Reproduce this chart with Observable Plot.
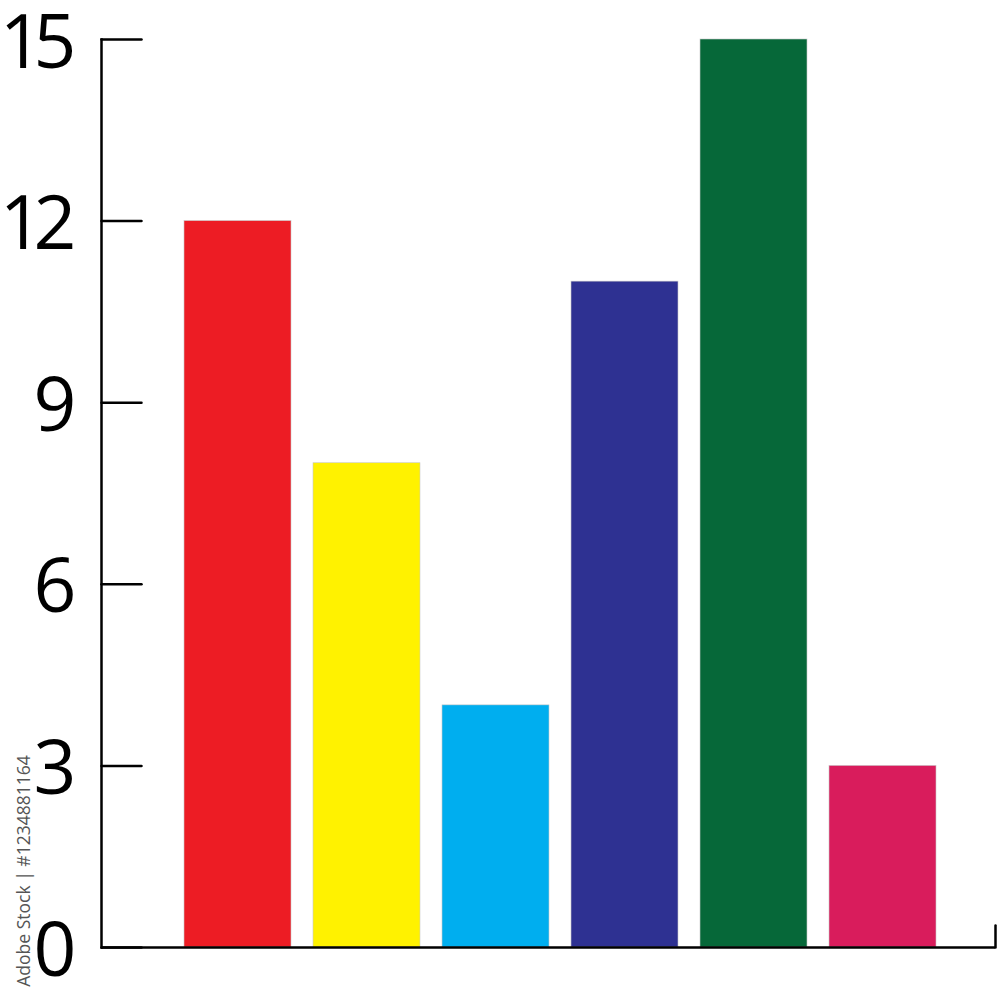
<!DOCTYPE html>
<html>
<head>
<meta charset="utf-8">
<script src="https://cdn.jsdelivr.net/npm/d3@7"></script>
<script src="https://cdn.jsdelivr.net/npm/@observablehq/plot@0.6"></script>
<style>
  html, body { margin: 0; padding: 0; background: #fff; }
  #wrap { position: relative; width: 997px; height: 1000px; }
  #side { position: absolute; left: 23px; top: 871px; transform: translate(-50%, -50%) rotate(-90deg);
          font-family: "Open Sans", sans-serif; font-size: 17.5px; color: #555; white-space: nowrap; }
  g[aria-label="y-axis tick label"] text { letter-spacing: -9px; }
</style>
</head>
<body>
<div id="wrap"><div id="side">Adobe Stock | #1234881164</div></div>
<script>
const categories = ["A", "B", "C", "D", "E", "F"];
const values = [12, 8, 4, 11, 15, 3];
const colors = ["#ED1C24", "#FFF200", "#00AEEF", "#2E3192", "#066839", "#D91C5C"];
const yTicks = [0, 3, 6, 9, 12, 15];

const data = categories.map((c, i) => ({category: c, value: values[i], color: colors[i]}));

const lineShape = {draw(context, l) { context.moveTo(0, 0); context.lineTo(0, -l); }};

const chart = Plot.plot({
  width: 997,
  height: 1000,
  marginLeft: 101,
  marginRight: 2,
  marginTop: 39,
  marginBottom: 53,
  x: {domain: categories, paddingInner: 0.172, paddingOuter: 0.546, align: 0.581, axis: null},
  y: {domain: [0, 15], axis: null},
  marks: [
    Plot.barY(data, {x: "category", y: "value", fill: "color", stroke: "#c8c8c8", strokeWidth: 0.6}),
    Plot.axisY(yTicks, {anchor: "left", tickSize: 0, tickPadding: 34, fontSize: 75, dy: 4,
      tickFormat: d => String(d), fontFamily: "Open Sans", fill: "#000", label: null}),
    Plot.vector(yTicks, {y: d => d, frameAnchor: "left", rotate: 90, length: 40, anchor: "start",
      shape: lineShape, stroke: "#000", strokeWidth: 2.5}),
    Plot.frame({anchor: "left", stroke: "#000", strokeWidth: 2.5}),
    Plot.ruleY([0], {stroke: "#000", strokeWidth: 2.5}),
    Plot.vector([0], {y: d => d, frameAnchor: "right", rotate: 0, length: 22, anchor: "start",
      shape: lineShape, stroke: "#000", strokeWidth: 2.5})
  ]
});
document.getElementById("wrap").prepend(chart);
</script>
</body>
</html>
